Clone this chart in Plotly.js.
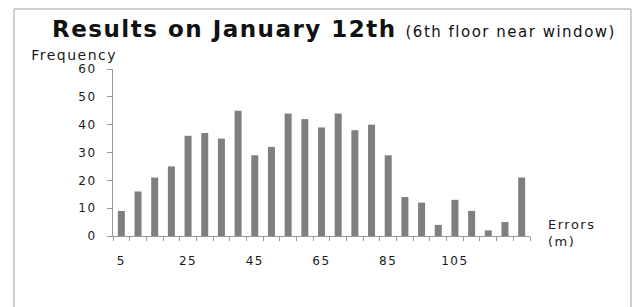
<!DOCTYPE html>
<html>
<head>
<meta charset="utf-8">
<script src="https://cdn.plot.ly/plotly-3.0.1.min.js"></script>
<style>
  html, body { margin: 0; padding: 0; background: #fff; }
  #chart { width: 632px; height: 307px; }
  #chart svg text { letter-spacing: 1.5px; }
</style>
</head>
<body>
<div id="chart"></div>
<script>
// Error bins (m) and their frequencies
const errorBins = [5, 10, 15, 20, 25, 30, 35, 40, 45, 50, 55, 60, 65, 70, 75, 80, 85, 90, 95, 100, 105, 110, 115, 120, 125];
const frequency = [9, 16, 21, 25, 36, 37, 35, 45, 29, 32, 44, 42, 39, 44, 38, 40, 29, 14, 12, 4, 13, 9, 2, 5, 21];
const xTickVals = [5, 25, 45, 65, 85, 105];
const xTickText = ["5", "25", "45", "65", "85", "105"];
const yTickVals = [0, 10, 20, 30, 40, 50, 60];

const W = 632, H = 307;
const M = { l: 113, r: 102, t: 69, b: 71 };
const pw = W - M.l - M.r, ph = H - M.t - M.b;
const px = x => (x - M.l) / pw;        // pixel -> paper x
const py = y => 1 - (y - M.t) / ph;    // pixel -> paper y

const axisColor = '#9a9a9a';
const textColor = '#1a1a1a';
const fontFam = 'DejaVu Sans, Verdana, sans-serif';

const trace = {
  type: 'bar',
  x: errorBins,
  y: frequency,
  marker: { color: '#7f7f7f', line: { width: 0 } },
  hoverinfo: 'x+y'
};

const layout = {
  width: W, height: H,
  margin: M,
  paper_bgcolor: '#fff',
  plot_bgcolor: '#fff',
  showlegend: false,
  bargap: 0.58,
  font: { family: fontFam, color: textColor, size: 12 },
  title: {
    text: '<b>Results on January 12th</b> <span style="font-size:15px">(6th floor near window)</span>',
    font: { family: fontFam, size: 23, color: '#111' },
    xref: 'container', yref: 'container',
    x: 52 / W, xanchor: 'left',
    y: 1 - 29 / H, yanchor: 'middle'
  },
  xaxis: {
    range: [2.5, 127.5],
    showgrid: false, zeroline: false,
    showline: true, linecolor: axisColor, linewidth: 1,
    tickmode: 'array', tickvals: xTickVals, ticktext: xTickText,
    ticks: '', ticklabelstandoff: 14,
    tickfont: { size: 12, color: textColor, family: fontFam },
    minor: { ticks: 'outside', tick0: 2.5, dtick: 5, ticklen: 4, tickcolor: axisColor, tickwidth: 1, showgrid: false }
  },
  yaxis: {
    range: [0, 60],
    showgrid: false, zeroline: false,
    showline: true, linecolor: axisColor, linewidth: 1,
    tickmode: 'array', tickvals: yTickVals,
    ticks: 'outside', ticklen: 5, tickcolor: axisColor, tickwidth: 1,
    ticklabelstandoff: 8,
    tickfont: { size: 12, color: textColor, family: fontFam }
  },
  annotations: [
    {
      text: 'Frequency', xref: 'paper', yref: 'paper',
      x: px(36), y: py(55), xanchor: 'left', yanchor: 'middle',
      showarrow: false, font: { size: 14, color: textColor, family: fontFam }
    },
    {
      text: 'Errors<br>(m)', xref: 'paper', yref: 'paper',
      x: px(546), y: py(233), xanchor: 'left', yanchor: 'middle', align: 'left',
      showarrow: false, font: { size: 13, color: textColor, family: fontFam }
    }
  ],
  shapes: [
    {
      type: 'rect', xref: 'paper', yref: 'paper',
      x0: px(14), x1: px(631), y0: py(312), y1: py(9),
      line: { color: '#a0a0a0', width: 1 }, fillcolor: 'rgba(0,0,0,0)', layer: 'below'
    }
  ]
};

Plotly.newPlot('chart', [trace], layout, { displayModeBar: false, staticPlot: true });
</script>
</body>
</html>
